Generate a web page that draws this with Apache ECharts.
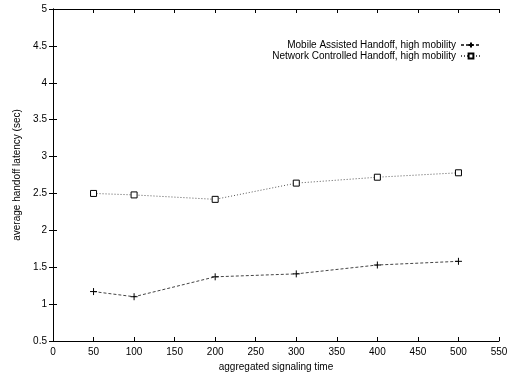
<!DOCTYPE html>
<html>
<head>
<meta charset="utf-8">
<script src="https://cdn.jsdelivr.net/npm/echarts@6/dist/echarts.min.js"></script>
<style>
  html, body { margin: 0; padding: 0; background: #fff; }
  #chart { width: 519px; height: 377px; }
</style>
</head>
<body>
<div id="chart"></div>
<script>
// signaling time (x) and latency values (y)
var xVals = [50, 100, 200, 300, 400, 500];
var mobileAssisted = [1.17, 1.10, 1.37, 1.41, 1.53, 1.58];
var networkControlled = [2.50, 2.48, 2.42, 2.64, 2.72, 2.78];
var seriesNames = ['Mobile Assisted Handoff, high mobility', 'Network Controlled Handoff, high mobility'];

var font = 'Liberation Sans, Arial, sans-serif';

function pairs(ys) {
    var out = [];
    for (var i = 0; i < xVals.length; i++) out.push([xVals[i], ys[i]]);
    return out;
}

var plusIcon = 'path://M0,5L10,5M5,0L5,10';
var chart = echarts.init(document.getElementById('chart'));

var tickStyle = { inside: true, length: 4, lineStyle: { color: '#000' } };

var option = {
    animation: false,
    grid: { left: 53, right: 20, top: 9, bottom: 27 },
    legend: {
        right: 37, top: 40,
        padding: 0,
        orient: 'vertical',
        align: 'right',
        itemGap: 1,
        itemWidth: 20, itemHeight: 6,
        textStyle: { fontFamily: font, fontSize: 10, lineHeight: 10, color: '#000' },
        data: [
            { name: seriesNames[0] },
            { name: seriesNames[1] }
        ]
    },
    xAxis: [{
        type: 'value', min: 0, max: 550, interval: 50,
        name: 'aggregated signaling time',
        nameLocation: 'middle', nameGap: 21,
        nameTextStyle: { fontFamily: font, fontSize: 10, color: '#000' },
        axisLine: { lineStyle: { color: '#000', width: 1 } },
        axisTick: tickStyle,
        axisLabel: { fontFamily: font, fontSize: 10, color: '#000', margin: 6 },
        splitLine: { show: false }
    }, {
        // mirrored top border with ticks
        type: 'value', min: 0, max: 550, interval: 50, position: 'top',
        axisLine: { lineStyle: { color: '#000' } },
        axisTick: tickStyle,
        axisLabel: { show: false }, splitLine: { show: false }
    }],
    yAxis: [{
        type: 'value', min: 0.5, max: 5, interval: 0.5,
        name: 'average handoff latency (sec)',
        nameLocation: 'middle', nameGap: 27,
        nameTextStyle: { fontFamily: font, fontSize: 10, color: '#000' },
        axisLine: { show: true, lineStyle: { color: '#000', width: 1 } },
        axisTick: tickStyle,
        axisLabel: { fontFamily: font, fontSize: 10, color: '#000', margin: 6 },
        splitLine: { show: false }
    }, {
        // mirrored right border with ticks
        type: 'value', min: 0.5, max: 5, interval: 0.5, position: 'right',
        axisLine: { show: true, lineStyle: { color: '#000' } },
        axisTick: tickStyle,
        axisLabel: { show: false }, splitLine: { show: false }
    }],
    series: [
        {
            name: seriesNames[0],
            type: 'line',
            data: pairs(mobileAssisted),
            symbol: plusIcon, symbolSize: 7,
            lineStyle: { color: '#444', width: 1, type: [3, 2] },
            itemStyle: { color: '#000', borderColor: '#000', borderWidth: 1 }
        },
        {
            name: seriesNames[1],
            type: 'line',
            data: pairs(networkControlled),
            symbol: 'rect', symbolSize: 6,
            lineStyle: { color: '#555', width: 1, type: [1, 2] },
            itemStyle: { color: '#fff', borderColor: '#000', borderWidth: 1 }
        }
    ]
};
chart.setOption(option);
</script>
</body>
</html>
